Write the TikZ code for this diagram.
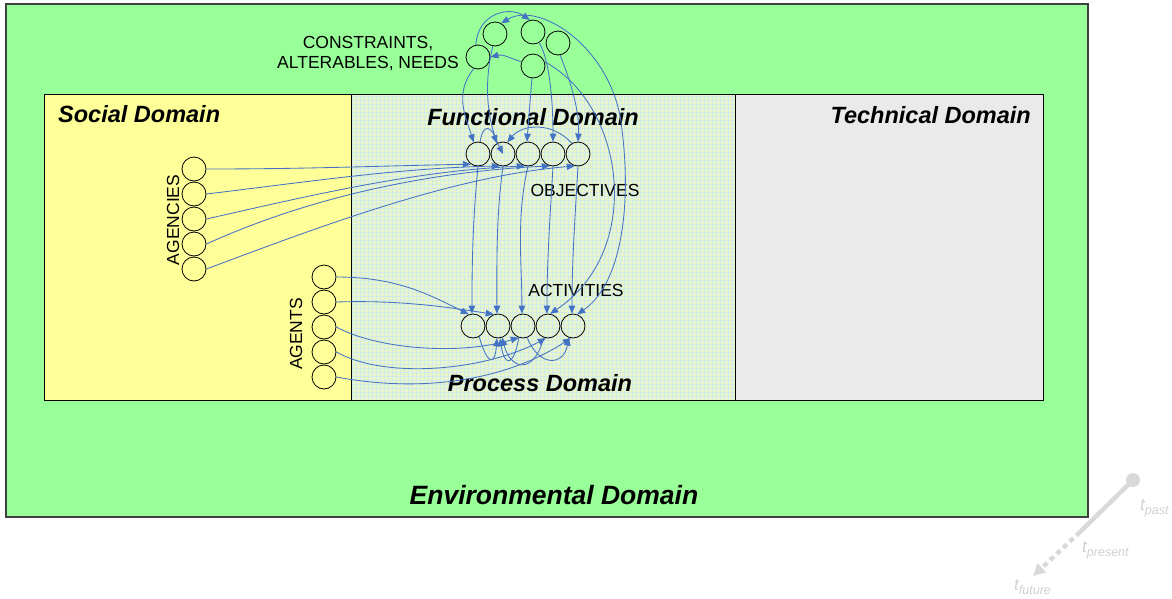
\documentclass[tikz,border=0pt]{standalone}
\usepackage{fontspec}
\setmainfont{Liberation Sans}
\usetikzlibrary{arrows.meta}
\definecolor{envgreen}{HTML}{99FF99}
\definecolor{envborder}{HTML}{404040}
\definecolor{socyellow}{HTML}{FFFF99}
\definecolor{funcbg}{HTML}{EAF6C6}
\definecolor{gridblue}{HTML}{D0EAEE}
\definecolor{techgray}{HTML}{EAEAEA}
\definecolor{linkblue}{HTML}{4472C4}
\definecolor{timegray}{HTML}{D9D9D9}
\definecolor{tlabel}{HTML}{D0D0D0}
\begin{document}
\begin{tikzpicture}[x=1pt,y=-1pt,
  circ/.style={circle,draw=black,line width=0.8pt,minimum size=24pt,inner sep=0pt},
  link/.style={draw=linkblue,line width=0.85pt,-{Triangle[length=8pt,width=6.5pt]}},
  dlink/.style={draw=linkblue,line width=0.85pt,{Triangle[length=8pt,width=6.5pt]}-{Triangle[length=8pt,width=6.5pt]}},
  domtitle/.style={font=\fontsize{23.5}{28}\selectfont\bfseries\itshape,inner sep=0pt},
  lbl/.style={font=\fontsize{17.5}{20}\selectfont,inner sep=0pt},
  tlbl/.style={text=tlabel,inner sep=0pt,anchor=base west,font=\fontsize{17}{20}\selectfont\itshape}]
\useasboundingbox (0,0) rectangle (1172,598);
% environment
\fill[envgreen] (6,4) rectangle (1088,517);
\draw[envborder,line width=1.2pt] (6,4) rectangle (1088,517);
% social
\fill[socyellow] (44,94) rectangle (351,400);
% functional / process with grid
\begin{scope}
\clip (351,94) rectangle (735,400);
\fill[funcbg] (351,94) rectangle (735,400);
\draw[gridblue,line width=0.3pt,step=4pt] (348,90) grid (740,404);
\end{scope}
% technical
\fill[techgray] (735,94) rectangle (1043,400);
\draw[black,line width=1pt] (44,94) rectangle (1043,400);
\draw[black,line width=1pt] (351,94) -- (351,400);
\draw[black,line width=1pt] (735,94) -- (735,400);
% titles
\node[domtitle,anchor=west] (tsoc) at (58,114) {Social Domain};
\node[domtitle] (tfun) at (533,117) {Functional Domain};
\node[domtitle,anchor=east] (ttec) at (1031,115) {Technical Domain};
\node[domtitle] (tpro) at (540,383) {Process Domain};
\node[domtitle,font=\fontsize{26.5}{30}\selectfont\bfseries\itshape] (tenv) at (554,495) {Environmental Domain};
% labels
\node[lbl,align=center] (lcon) at (368,54) {CONSTRAINTS,\\ALTERABLES, NEEDS};
\node[lbl,rotate=90] (lagc) at (173,220) {AGENCIES};
\node[lbl,rotate=90] (lagt) at (296,334) {AGENTS};
\node[lbl] (lobj) at (585,190) {OBJECTIVES};
\node[lbl] (lact) at (576,290) {ACTIVITIES};
% circles
\node[circ] (c1) at (495,34) {};
\node[circ] (c2) at (533,32) {};
\node[circ] (c3) at (558,43) {};
\node[circ] (c4) at (478,57) {};
\node[circ] (c5) at (533,66) {};
\foreach \i/\x in {1/478,2/503,3/528,4/553,5/578} \node[circ] (o\i) at (\x,154) {};
\foreach \i/\x in {1/473,2/498,3/523,4/548,5/573} \node[circ] (a\i) at (\x,326) {};
\foreach \i/\y in {1/169,2/194,3/219,4/244,5/269} \node[circ] (g\i) at (194,\y) {};
\foreach \i/\y in {1/277,2/302,3/327,4/352,5/377} \node[circ] (n\i) at (324,\y) {};
% top cluster links
\draw[link] (c4.100) .. controls +(2,-32) and +(-20,-14) .. (c2.105);
\draw[link] (c5.160) .. controls +(-12,-4) and +(12,-3) .. (c4.east);
\coordinate (bigarc) at (622,130);
\draw[dlink] (c1.60) .. controls (540,0) and (615,50) .. (bigarc) .. controls (632,210) and (620,285) .. (a5.70);
\draw[link] (c4.-110) .. controls +(-20,25) and +(-8,-25) .. (o1.110);
\draw[link] (c1.-100) .. controls +(-10,40) and +(-15,-30) .. (o2.center);
\draw[link] (c5.-95) .. controls +(-2,25) and +(2,-25) .. (o3.95);
\draw[link] (c2.-60) .. controls +(12,20) and +(0,-30) .. (o4.90);
\draw[link] (c3.-80) .. controls +(10,25) and +(2,-30) .. (o5.90);
\draw[link] (c5.20) .. controls (625,105) and (645,250) .. (a4.80);
% objective arcs
\draw[link] (o1.80) .. controls +(3,-20) and +(-5,-15) .. (o2.120);
\draw[link] (o5.120) .. controls +(-20,-22) and +(15,-18) .. (o2.70);
% objectives to activities
\draw[link] (o1.-90) .. controls +(-5,50) and +(0,-50) .. (a1.95);
\draw[link] (o2.-90) .. controls +(-7,50) and +(0,-50) .. (a2.95);
\draw[link] (o3.-90) .. controls +(-12,50) and +(0,-50) .. (a3.95);
\draw[link] (o4.-90) .. controls +(-3,50) and +(0,-50) .. (a4.95);
\draw[link] (o5.-90) .. controls +(-3,50) and +(0,-50) .. (a5.95);
% agencies to objectives
\draw[link] (g1.east) .. controls +(100,0) and +(-100,2) .. (o1.-125);
\draw[link] (g2.east) .. controls +(100,-12) and +(-100,2) .. (o2.-105);
\draw[link] (g3.east) .. controls +(110,-25) and +(-110,5) .. (o3.-105);
\draw[link] (g4.east) .. controls +(110,-50) and +(-110,5) .. (o4.-105);
\draw[link] (g5.east) .. controls +(120,-45) and +(-120,10) .. (o5.-105);
% agents to activities
\draw[link] (n1.east) .. controls +(60,0) and +(-40,-20) .. (a1.110);
\draw[link] (n2.east) .. controls +(60,-2) and +(-50,-8) .. (a2.110);
\draw[link] (n3.east) .. controls +(40,22) and +(-60,18) .. (a3.-110);
\draw[link] (n4.east) .. controls +(50,28) and +(-60,32) .. (a4.-100);
\draw[link] (n5.east) .. controls +(80,15) and +(-70,45) .. (a5.-100);
% activity loops
\draw[link] (a1.-60) .. controls +(8,28) and +(-2,28) .. (a2.-95);
\draw[link] (a3.-110) .. controls +(-5,30) and +(4,28) .. (a2.-80);
\draw[link] (a4.-110) .. controls +(-10,38) and +(8,32) .. (a2.-70);
\draw[link] (a3.-70) .. controls +(12,30) and +(-5,28) .. (a5.-110);
% time arrow
\coordinate (tpast) at (1133,480);
\coordinate (tnow) at (1080,532);
\coordinate (tfut) at (1033,576);
\draw[timegray,line width=4.5pt] (tpast) -- (tnow);
\draw[timegray,line width=4.5pt,dash pattern=on 5pt off 4pt,-{Triangle[length=12pt,width=12pt]}] (tnow) -- (tfut);
\fill[timegray] (tpast) circle[radius=7pt];
\node[tlbl] (lpast) at (1140,510) {t\raisebox{-4pt}{\fontsize{12.5}{14}\selectfont past}};
\node[tlbl] (lnow) at (1082,552) {t\raisebox{-4pt}{\fontsize{12.5}{14}\selectfont present}};
\node[tlbl] (lfut) at (1014,590) {t\raisebox{-4pt}{\fontsize{12.5}{14}\selectfont future}};
\end{tikzpicture}
\end{document}
